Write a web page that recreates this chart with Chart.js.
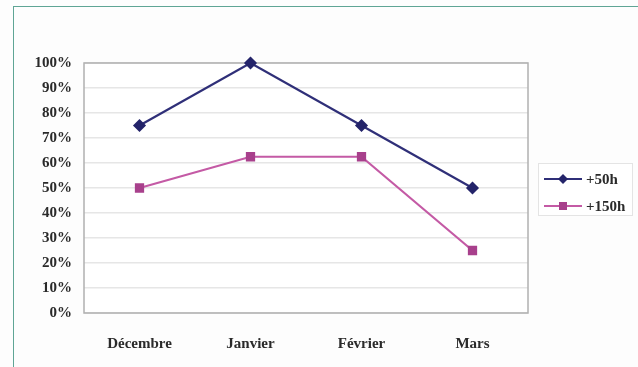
<!DOCTYPE html>
<html>
<head>
<meta charset="utf-8">
<script src="https://cdn.jsdelivr.net/npm/chart.js@4.4.1/dist/chart.umd.min.js"></script>
<style>
  html, body { margin: 0; padding: 0; background: #fdfdfd; overflow: hidden; }
  #frame { position: absolute; left: 13px; top: 6px; width: 640px; height: 400px;
           border: 1.5px solid #5fa595; box-sizing: border-box; }
  #wrap { position: absolute; left: 0; top: 0; width: 638px; height: 367px; }
</style>
</head>
<body>
<div id="frame"></div>
<div id="wrap"><canvas id="c" width="638" height="367"></canvas></div>
<script>
// Months on the x axis
const months = ['Décembre', 'Janvier', 'Février', 'Mars'];
// Share of respondents (%) per month
const plus50h = [75, 100, 75, 50];
const plus150h = [50, 62.5, 62.5, 25];
// Y-axis tick values
const yTicks = [0, 10, 20, 30, 40, 50, 60, 70, 80, 90, 100];

const serif = "'Liberation Serif', 'Times New Roman', serif";
const textColor = '#2a2a2a';

// Legend with a framed box, line + marker samples
const boxLegend = {
  id: 'boxLegend',
  afterDraw(chart) {
    const ctx = chart.ctx;
    const x0 = 538, y0 = 163, w = 94, h = 52;
    ctx.save();
    ctx.fillStyle = '#ffffff';
    ctx.fillRect(x0, y0, w, h);
    ctx.strokeStyle = '#e4e4e4';
    ctx.lineWidth = 1;
    ctx.strokeRect(x0 + 0.5, y0 + 0.5, w, h);
    chart.data.datasets.forEach((ds, i) => {
      const y = y0 + 16 + i * 27;
      ctx.strokeStyle = ds.borderColor;
      ctx.lineWidth = 2;
      ctx.beginPath();
      ctx.moveTo(544, y);
      ctx.lineTo(582, y);
      ctx.stroke();
      ctx.fillStyle = ds.pointBackgroundColor;
      if (ds.pointStyle === 'rectRot') {
        ctx.beginPath();
        ctx.moveTo(563, y - 5); ctx.lineTo(568, y); ctx.lineTo(563, y + 5); ctx.lineTo(558, y);
        ctx.closePath(); ctx.fill();
      } else {
        ctx.fillRect(559, y - 4, 8, 8);
      }
      ctx.fillStyle = textColor;
      ctx.font = 'bold 15px ' + serif;
      ctx.textBaseline = 'middle';
      ctx.textAlign = 'left';
      ctx.fillText(ds.label, 586, y + 1);
    });
    ctx.restore();
  }
};

// Plot area background + frame
const plotFrame = {
  id: 'plotFrame',
  beforeDraw(chart) {
    const { ctx, chartArea: a } = chart;
    ctx.save();
    ctx.fillStyle = '#ffffff';
    ctx.fillRect(a.left, a.top, a.right - a.left, a.bottom - a.top);
    ctx.restore();
  },
  beforeDatasetsDraw(chart) {
    const { ctx, chartArea: a } = chart;
    ctx.save();
    ctx.strokeStyle = '#b0b0b0';
    ctx.lineWidth = 1.5;
    ctx.strokeRect(a.left, a.top, a.right - a.left, a.bottom - a.top);
    ctx.restore();
  }
};

new Chart(document.getElementById('c'), {
  type: 'line',
  data: {
    labels: months,
    datasets: [
      {
        label: '+50h',
        data: plus50h,
        borderColor: '#2f2f78',
        backgroundColor: '#2f2f78',
        pointBackgroundColor: '#24246a',
        pointBorderColor: '#24246a',
        pointStyle: 'rectRot',
        pointRadius: 5,
        borderWidth: 2.2,
        tension: 0,
        clip: false
      },
      {
        label: '+150h',
        data: plus150h,
        borderColor: '#c45aa5',
        backgroundColor: '#c45aa5',
        pointBackgroundColor: '#a8408c',
        pointBorderColor: '#a8408c',
        pointStyle: 'rect',
        pointRadius: 5,
        borderWidth: 2.2,
        tension: 0,
        clip: false
      }
    ]
  },
  options: {
    responsive: false,
    animation: false,
    layout: { padding: { left: 0, right: 110, top: 63, bottom: 0 } },
    plugins: { legend: { display: false }, tooltip: { enabled: false } },
    scales: {
      x: {
        offset: true,
        grid: { display: false, drawTicks: false },
        border: { display: false },
        ticks: { color: textColor, font: { family: serif, size: 15, weight: 'bold' }, padding: 22 },
        afterFit(s) { s.height = 54; }
      },
      y: {
        min: 0, max: 100,
        afterBuildTicks(s) { s.ticks = yTicks.map(v => ({ value: v })); },
        grid: { color: '#e6e6e6', lineWidth: 1.5, drawTicks: false },
        border: { display: false },
        ticks: {
          color: textColor, font: { family: serif, size: 15, weight: 'bold' }, padding: 12,
          callback: v => v + '%'
        },
        afterFit(s) { s.width = 84; }
      }
    }
  },
  plugins: [plotFrame, boxLegend]
});
</script>
</body>
</html>
